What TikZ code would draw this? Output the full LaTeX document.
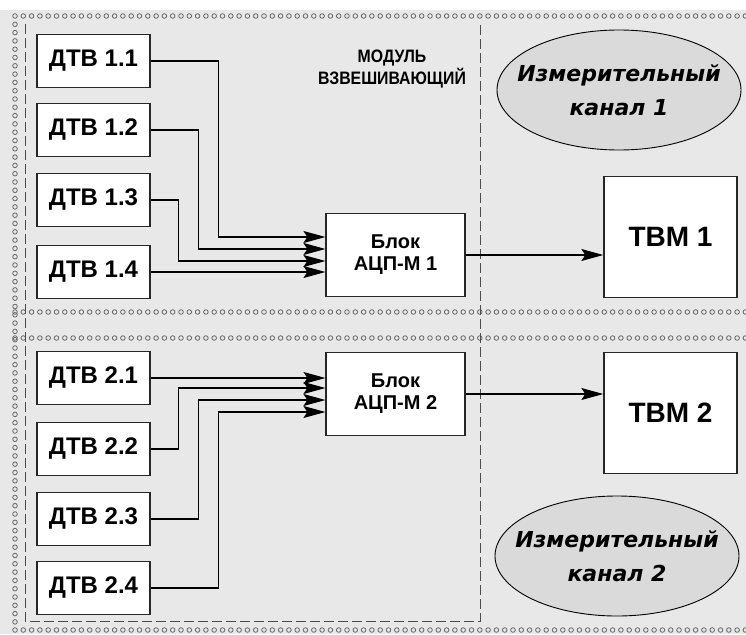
\documentclass[tikz,border=0pt]{standalone}
\usepackage{fontspec}
\setmainfont{Liberation Sans}
\newfontfamily\kanalfont{DejaVu Sans}
\newfontfamily\modfont[FakeStretch=0.88]{Liberation Sans}
\usetikzlibrary{shapes.geometric,arrows.meta}
\definecolor{bggray}{HTML}{E8E8E8}
\definecolor{ellgray}{HTML}{DADADA}
\begin{document}
\begin{tikzpicture}[x=1pt,y=-1pt,
  dtv/.style={draw=black!85,line width=1.4pt,fill=white,minimum width=113pt,minimum height=53pt,font=\fontsize{24}{26}\selectfont\bfseries},
  blok/.style={draw=black!85,line width=1.2pt,fill=white,minimum width=139pt,minimum height=83pt,align=center,font=\fontsize{20}{22}\selectfont\bfseries},
  tvm/.style={draw=black!85,line width=1.4pt,fill=white,minimum width=133pt,minimum height=121pt,font=\fontsize{28}{30}\selectfont\bfseries},
  kanal/.style={ellipse,draw,line width=0.9pt,fill=ellgray,inner sep=0pt,minimum width=244pt,minimum height=120pt,align=center,font=\kanalfont\fontsize{22}{34}\selectfont\bfseries\itshape},
  dot/.style={draw=black!60,line width=0.8pt},
  modline/.style={draw=black!70,line width=0.8pt,dash pattern=on 10pt off 4pt},
  sig/.style={line width=1.1pt,-{Stealth[length=22pt,width=12pt,inset=4pt]}}]
  \useasboundingbox (0,0) rectangle (746,634);
  \fill[bggray] (0,10) rectangle (746,634);
  \foreach \y in {16,312,338,630} \foreach \x in {15,23.3,...,746} \draw[dot] (\x,\y) circle (2.3);
  \foreach \y in {24.3,32.6,...,626} \draw[dot] (15,\y) circle (2.3);
  \draw[modline] (25,24) -- (25,621) -- (480,621) -- (480,24);
  \node[font=\modfont\fontsize{18}{22}\selectfont\bfseries,align=center] (modul) at (392,69) {МОДУЛЬ\\ВЗВЕШИВАЮЩИЙ};
  \foreach \n/\y in {1/61,2/130,3/200,4/272} \node[dtv] (d1\n) at (93.5,\y) {ДТВ 1.\n};
  \foreach \n/\y in {1/378,2/449,3/519,4/588} \node[dtv] (d2\n) at (93.5,\y) {ДТВ 2.\n};
  \node[blok] (blok1) at (395.5,255) {Блок\\АЦП-М 1};
  \node[blok] (blok2) at (395.5,394) {Блок\\АЦП-М 2};
  \node[tvm] (tvm1) at (670.5,237) {ТВМ 1};
  \node[tvm] (tvm2) at (670.5,413) {ТВМ 2};
  \node[kanal] (kan1) at (619,90) {\makebox[0pt]{Измерительный}\\\makebox[0pt]{канал 1}};
  \node[kanal] (kan2) at (617,556) {\makebox[0pt]{Измерительный}\\\makebox[0pt]{канал 2}};
  \draw[sig] (d11.east) -- ++(68,0) |- ([yshift=18pt]blok1.west);
  \draw[sig] (d12.east) -- ++(48,0) |- ([yshift=6pt]blok1.west);
  \draw[sig] (d13.east) -- ++(28,0) |- ([yshift=-6pt]blok1.west);
  \draw[sig] (d14.east) -- (d14.east -| blok1.west);
  \draw[sig] (d21.east) -- (d21.east -| blok2.west);
  \draw[sig] (d22.east) -- ++(28,0) |- ([yshift=6pt]blok2.west);
  \draw[sig] (d23.east) -- ++(48,0) |- ([yshift=-6pt]blok2.west);
  \draw[sig] (d24.east) -- ++(68,0) |- ([yshift=-18pt]blok2.west);
  \draw[sig] (blok1.east) -- (blok1.east -| tvm1.west);
  \draw[sig] (blok2.east) -- (blok2.east -| tvm2.west);
\end{tikzpicture}
\end{document}
